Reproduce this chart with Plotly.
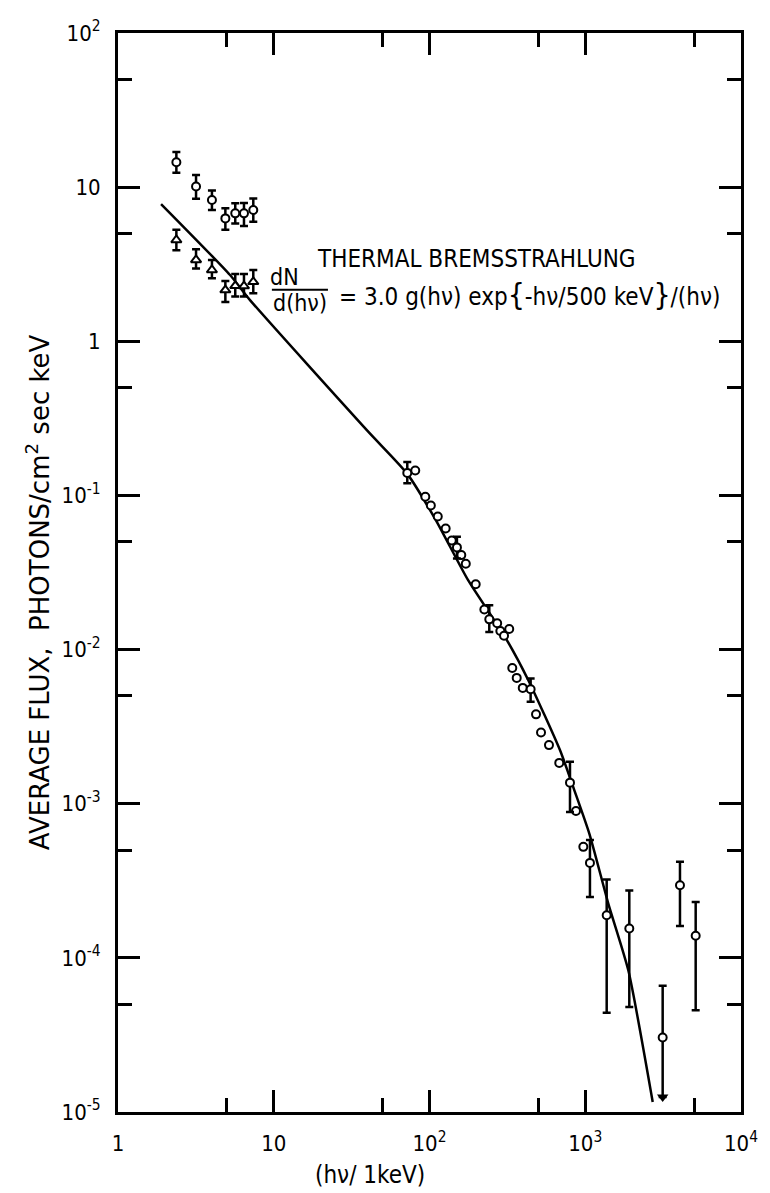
import plotly.graph_objects as go

# ---------------- data ----------------
# low-energy upper series (open circles)
lo_x = [2.37, 3.17, 4.01, 4.89, 5.66, 6.44, 7.39]
lo_y = [14.5, 10.1, 8.25, 6.27, 6.76, 6.76, 7.1]
lo_hi = [16.9, 12.0, 9.5, 7.3, 7.85, 7.9, 8.45]
lo_lo = [12.4, 8.4, 7.1, 5.3, 5.8, 5.6, 5.97]

# low-energy lower series (triangles)
tr_x = [2.37, 3.17, 4.01, 4.89, 5.66, 6.44, 7.39]
tr_y = [4.54, 3.37, 2.90, 2.15, 2.29, 2.28, 2.43]
tr_hi = [5.3, 3.96, 3.37, 2.46, 2.73, 2.73, 2.9]
tr_lo = [3.9, 2.97, 2.56, 1.80, 1.95, 1.95, 2.05]

# high-energy points without error bars
he_x = [81, 94, 102, 113, 127, 139, 160, 171, 198, 225, 272, 285, 301, 325,
        340, 363, 397, 483, 520, 585, 681, 872, 972]
he_y = [0.145, 0.098, 0.086, 0.073, 0.061, 0.051, 0.041, 0.036, 0.0265, 0.0182,
        0.0148, 0.0132, 0.0123, 0.0136, 7.6e-3, 6.55e-3, 5.64e-3, 3.8e-3,
        2.9e-3, 2.4e-3, 1.84e-3, 8.98e-4, 5.25e-4]

# high-energy points with error bars
eb_x = [72, 150, 242, 446, 798, 1072, 1373, 1918, 4057, 5117]
eb_y = [0.14, 0.046, 0.0157, 5.53e-3, 1.37e-3, 4.13e-4, 1.89e-4, 1.55e-4, 2.96e-4, 1.39e-4]
eb_hi = [0.165, 0.054, 0.0194, 6.5e-3, 1.87e-3, 5.82e-4, 3.22e-4, 2.74e-4, 4.2e-4, 2.3e-4]
eb_lo = [0.12, 0.039, 0.0130, 4.58e-3, 8.85e-4, 2.48e-4, 4.4e-5, 4.8e-5, 1.61e-4, 4.57e-5]

# upper-limit point
ul_x = [3141]
ul_y = [3.04e-5]
ul_hi = [6.6e-5]
ul_tip = [1.25e-5]

# thermal bremsstrahlung curve
fit_x = [1.89, 5.24, 7.04, 40, 72, 110, 177, 305, 431, 689, 847, 1062, 1406, 1890, 2711]
fit_y = [7.77, 2.69, 1.85, 0.262, 0.138, 0.069, 0.0282, 0.0121, 0.00633, 0.00222,
         0.00124, 6.4e-4, 2.25e-4, 8.3e-5, 1.16e-5]

x_tickvals = [1, 10, 100, 1000, 10000]
x_ticktext = ["1", "10", "10<sup>2</sup>", "10<sup>3</sup>", "10<sup>4</sup>"]
y_tickvals = [1e-5, 1e-4, 1e-3, 1e-2, 1e-1, 1, 10, 100]
y_ticktext = ["10<sup>-5</sup>", "10<sup>-4</sup>", "10<sup>-3</sup>", "10<sup>-2</sup>",
              "10<sup>-1</sup>", "1", "10", "10<sup>2</sup>"]
x_minor = [5, 50, 500, 5000]
y_minor = [5e-5, 5e-4, 5e-3, 5e-2, 0.5, 5, 50]

FONT = "DejaVu Sans Condensed, DejaVu Sans, sans-serif"
FONT_W = "DejaVu Sans, sans-serif"
BLK = "black"

def err(y, hi, lo):
    return dict(type="data", symmetric=False,
                array=[h - v for h, v in zip(hi, y)],
                arrayminus=[v - l for v, l in zip(y, lo)],
                color=BLK, thickness=2.5, width=4)

fig = go.Figure()
fig.add_trace(go.Scatter(x=fit_x, y=fit_y, mode="lines",
                         line=dict(color=BLK, width=2.5, shape="spline", smoothing=0.6),
                         hoverinfo="skip"))
circ = dict(symbol="circle", size=8, color="white", line=dict(color=BLK, width=2))
fig.add_trace(go.Scatter(x=lo_x, y=lo_y, mode="markers", marker=circ,
                         error_y=err(lo_y, lo_hi, lo_lo)))
fig.add_trace(go.Scatter(x=tr_x, y=tr_y, mode="markers",
                         marker=dict(symbol="triangle-up", size=9, color="white",
                                     line=dict(color=BLK, width=2)),
                         error_y=err(tr_y, tr_hi, tr_lo)))
fig.add_trace(go.Scatter(x=he_x, y=he_y, mode="markers", marker=circ))
fig.add_trace(go.Scatter(x=eb_x, y=eb_y, mode="markers", marker=circ,
                         error_y=err(eb_y, eb_hi, eb_lo)))
fig.add_trace(go.Scatter(x=ul_x, y=ul_y, mode="markers", marker=circ,
                         error_y=err(ul_y, ul_hi, ul_tip)))
fig.add_trace(go.Scatter(x=ul_x, y=ul_tip, mode="markers",
                         marker=dict(symbol="triangle-down", size=10, color=BLK)))

axis_common = dict(type="log", showgrid=False, zeroline=False, showline=True,
                   linecolor=BLK, linewidth=3, mirror="allticks", automargin=False,
                   ticks="inside", ticklen=22, tickwidth=2.5, tickcolor=BLK,
                   tickfont=dict(family=FONT, size=22, color=BLK))

fig.update_xaxes(**axis_common, range=[0, 4], tickmode="array",
                 tickvals=x_tickvals, ticktext=x_ticktext, ticklabelstandoff=10,
                 minor=dict(tickmode="array", tickvals=x_minor, ticks="inside",
                            ticklen=14, tickwidth=2.5, tickcolor=BLK))
fig.update_yaxes(**axis_common, range=[-5, 2], tickmode="array",
                 tickvals=y_tickvals, ticktext=y_ticktext, ticklabelstandoff=10,
                 minor=dict(tickmode="array", tickvals=y_minor, ticks="inside",
                            ticklen=14, tickwidth=2.5, tickcolor=BLK))

fig.add_annotation(text="AVERAGE FLUX,  PHOTONS/cm<sup>2</sup> sec keV",
                   xref="paper", yref="paper", x=-0.128, y=0.482, textangle=-90,
                   xanchor="center", yanchor="middle",
                   showarrow=False, font=dict(family=FONT_W, size=26, color=BLK))
fig.add_annotation(text="(h\u03bd/ 1keV)", xref="paper", yref="paper",
                   x=0.404, y=-0.058, xanchor="center", yanchor="middle",
                   showarrow=False, font=dict(family=FONT, size=24, color=BLK))

fig.add_annotation(text="THERMAL BREMSSTRAHLUNG", xref="paper", yref="paper",
                   x=0.576, y=0.805, showarrow=False,
                   font=dict(family=FONT, size=24, color=BLK))
fig.add_annotation(text="dN", xref="paper", yref="paper", x=0.268, y=0.774,
                   showarrow=False, xanchor="center", yanchor="middle",
                   font=dict(family=FONT, size=23, color=BLK))
fig.add_annotation(text="d(h\u03bd)", xref="paper", yref="paper", x=0.292, y=0.750,
                   showarrow=False, xanchor="center", yanchor="middle",
                   font=dict(family=FONT, size=23, color=BLK))
fig.add_annotation(text="= 3.0 g(h\u03bd) exp<span style='font-size:30px'>{</span>-h\u03bd/500 keV"
                        "<span style='font-size:30px'>}</span>/(h\u03bd)",
                   xref="paper", yref="paper", x=0.352, y=0.758, showarrow=False,
                   xanchor="left", yanchor="middle",
                   font=dict(family=FONT, size=24, color=BLK))
fig.add_shape(type="line", xref="paper", yref="paper", x0=0.247, x1=0.337,
              y0=0.762, y1=0.762, line=dict(color=BLK, width=2))

fig.update_layout(width=770, height=1193, showlegend=False,
                  plot_bgcolor="white", paper_bgcolor="white",
                  margin=dict(l=118, r=29, t=33, b=81),
                  font=dict(family=FONT, color=BLK))

fig.write_html("out.html", config={"displayModeBar": False},
               post_script="document.body.style.margin='0px';")
